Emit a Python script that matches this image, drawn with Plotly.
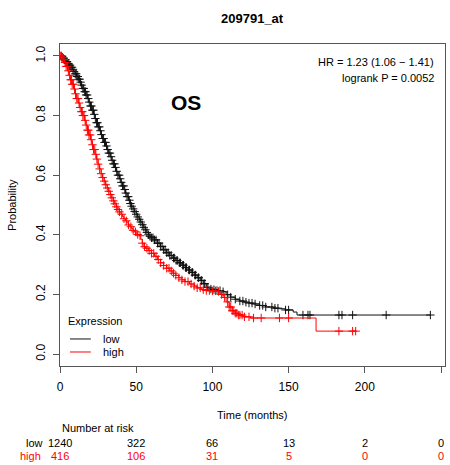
import numpy as np
import plotly.graph_objects as go

# ---- data ----
low_t = [0, 1, 2, 3, 4, 5, 6, 7, 8, 9, 10, 11, 12, 13, 14, 15, 16, 17, 18, 19, 20, 21, 22,
         23, 24, 25, 26, 27, 28, 29, 30, 31, 32, 33, 34, 35, 36, 37, 38, 39, 40, 41, 42,
         43, 44, 45, 46, 47, 48, 49, 50, 51, 52, 53, 54, 55, 56, 57, 58, 59, 60, 62, 64,
         66, 68, 70, 72, 74, 76, 78, 80, 82, 84, 86, 88, 90, 92, 94, 96, 98, 100, 103,
         106, 109, 112, 115, 118, 121, 124, 127, 131, 135, 140, 144, 148, 153, 155.5, 243]
low_s = [1.000, 0.996, 0.992, 0.987, 0.981, 0.975, 0.969, 0.962, 0.955, 0.948, 0.940,
         0.931, 0.922, 0.912, 0.902, 0.891, 0.880, 0.869, 0.857, 0.845, 0.832, 0.818,
         0.804, 0.790, 0.776, 0.762, 0.749, 0.736, 0.723, 0.710, 0.698, 0.686, 0.674,
         0.662, 0.650, 0.638, 0.626, 0.613, 0.600, 0.588, 0.576, 0.564, 0.552, 0.540,
         0.528, 0.516, 0.505, 0.496, 0.487, 0.478, 0.469, 0.460, 0.452, 0.443, 0.434,
         0.425, 0.417, 0.408, 0.400, 0.395, 0.390, 0.383, 0.372, 0.361, 0.350, 0.340,
         0.331, 0.322, 0.314, 0.306, 0.298, 0.290, 0.282, 0.274, 0.265, 0.256, 0.247,
         0.236, 0.224, 0.218, 0.216, 0.213, 0.209, 0.199, 0.191, 0.184, 0.178, 0.174,
         0.171, 0.168, 0.163, 0.158, 0.154, 0.152, 0.148, 0.141, 0.131, 0.131]

high_t = [0, 1, 2, 3, 4, 5, 6, 7, 8, 9, 10, 11, 12, 13, 14, 15, 16, 17, 18, 19, 20, 21, 22,
          23, 24, 25, 26, 27, 28, 29, 30, 31, 32, 33, 34, 35, 36, 37, 38, 39, 40, 41, 42,
          43, 44, 45, 46, 47, 48, 49, 50, 51, 52, 53, 54, 55, 56, 58, 60, 62, 64, 66, 68,
          70, 72, 74, 76, 78, 80, 82, 85, 88, 90, 93, 96, 100, 103, 105, 107, 109, 111,
          113, 115, 117, 120, 125, 168, 194]
high_s = [1.000, 0.995, 0.988, 0.978, 0.965, 0.950, 0.935, 0.920, 0.905, 0.889, 0.873,
          0.857, 0.842, 0.827, 0.813, 0.800, 0.784, 0.768, 0.751, 0.735, 0.719, 0.702,
          0.686, 0.670, 0.654, 0.637, 0.621, 0.605, 0.592, 0.580, 0.568, 0.557, 0.546,
          0.535, 0.524, 0.514, 0.504, 0.494, 0.485, 0.477, 0.469, 0.461, 0.454, 0.447,
          0.440, 0.433, 0.427, 0.421, 0.415, 0.410, 0.405, 0.401, 0.397, 0.385, 0.372,
          0.360, 0.355, 0.347, 0.338, 0.328, 0.317, 0.306, 0.297, 0.288, 0.279, 0.271,
          0.264, 0.256, 0.249, 0.243, 0.235, 0.228, 0.222, 0.216, 0.213, 0.212, 0.210,
          0.200, 0.190, 0.175, 0.158, 0.145, 0.137, 0.131, 0.125, 0.121, 0.077, 0.077]

low_cens = [0.8, 1.5, 2.2, 3, 3.7, 4.6, 5.3, 6, 6.6, 7.2, 7.9, 8.5, 9.2, 10, 10.6, 11.1,
            11.7, 12.3, 12.9, 13.5, 14.2, 15, 15.6, 16.2, 16.7, 17.1, 17.8, 18.5, 19.2, 20,
            20.6, 21.2, 21.9, 22.5, 23.2, 24, 24.6, 25.1, 25.8, 26.5, 27.2, 28, 28.6, 29.2,
            29.9, 30.5, 31.3, 32, 32.8, 33.5, 34.2, 35, 35.7, 36.4, 37.2, 38, 38.8, 39.5,
            40.2, 41, 41.8, 42.5, 43.2, 44, 44.8, 45.5, 46.2, 47, 48, 49, 50, 51, 52, 53,
            54, 55, 56, 57, 58, 59, 60, 61, 62, 63, 64, 65, 66, 67, 68, 69, 70, 71, 72, 73,
            74.5, 75, 76.2, 77, 78.3, 79, 80.5, 81, 82.4, 83, 84.5, 85, 86.6, 87, 88.5, 89,
            90.7, 91, 92.6, 93, 94.5, 95, 97, 99, 101, 103, 105, 107, 110, 112, 115, 118,
            120, 122, 124, 126, 128, 131, 133, 135, 139, 141, 143, 148, 150, 159.4, 162.7,
            164, 183, 185, 192, 214, 243]
high_cens = [0.5, 1, 1.8, 2.5, 3.3, 4, 4.8, 5.5, 6.3, 7, 7.6, 8, 8.8, 9.5, 10.2, 11, 11.8,
             12.5, 13.2, 14, 14.6, 15, 15.8, 16.5, 17.2, 18, 18.6, 19, 19.8, 20.5, 21.3, 22,
             22.8, 23.5, 24.2, 25, 26, 27, 28, 29, 30, 31, 32, 33, 34, 35, 36, 37, 38, 39,
             40.5, 42, 43.5, 45, 46.5, 48, 49.5, 51, 52.5, 54, 55.5, 57, 58.5, 60, 61.5, 63,
             64.5, 66, 68, 70, 71.5, 73, 74.5, 76, 78, 80, 82, 84, 86, 88, 90, 92, 94, 96,
             98, 100, 102, 104, 106, 108, 110, 111, 112, 113, 114, 115, 116, 117, 118, 119.5,
             121, 124, 127, 132, 144, 150, 183, 192, 194]

risk_times = [0, 50, 100, 150, 200, 250]
risk_low = [1240, 322, 66, 13, 2, 0]
risk_high = [416, 106, 31, 5, 0, 0]

x_ticks = [0, 50, 100, 150, 200, 250]
y_ticks = [0.0, 0.2, 0.4, 0.6, 0.8, 1.0]


def step_at(ts, ss, x):
    idx = np.searchsorted(np.array(ts), np.array(x), side="right") - 1
    return np.array(ss)[idx]


BLACK = "#111111"
RED = "#ff0000"
FONT = "Liberation Sans, Arial, sans-serif"

fig = go.Figure()
for ts, ss, cens, col in [(low_t, low_s, low_cens, BLACK), (high_t, high_s, high_cens, RED)]:
    fig.add_trace(go.Scatter(x=ts, y=ss, mode="lines", line=dict(color=col, width=1, shape="hv"),
                             showlegend=False, hoverinfo="skip"))
    fig.add_trace(go.Scatter(x=cens, y=step_at(ts, ss, cens), mode="markers",
                             marker=dict(symbol="cross-thin", size=6, line=dict(color=col, width=1)),
                             showlegend=False, hoverinfo="skip"))

ann = []
# title
ann.append(dict(text="<b>209791_at</b>", xref="paper", yref="paper", x=0.5, y=1.08,
                xanchor="center", showarrow=False, font=dict(size=13, color="black"), yanchor="middle"))
# HR text
ann.append(dict(text="HR = 1.23 (1.06 \u2212 1.41)", xref="paper", yref="paper", x=0.977, y=0.944,
                xanchor="right", yanchor="middle", showarrow=False, font=dict(size=11, color="black")))
ann.append(dict(text="logrank P = 0.0052", xref="paper", yref="paper", x=0.977, y=0.894,
                xanchor="right", yanchor="middle", showarrow=False, font=dict(size=11, color="black")))
# OS
ann.append(dict(text="<b>OS</b>", xref="paper", yref="paper", x=0.327, y=0.817, xanchor="center",
                showarrow=False, font=dict(size=21, color="black"), yanchor="middle"))
# axis titles
ann.append(dict(text="Probability", xref="paper", yref="paper", x=-0.125, y=0.5, textangle=-90,
                xanchor="center", yanchor="middle", showarrow=False, font=dict(size=11, color="black")))
ann.append(dict(text="Time (months)", xref="paper", yref="paper", x=0.5, y=-0.152, xanchor="center",
                yanchor="middle", showarrow=False, font=dict(size=11, color="black")))
ann.append(dict(text="Number at risk", xref="paper", yref="paper", x=0.0, y=-0.193, xanchor="left",
                yanchor="middle", showarrow=False, font=dict(size=11, color="black")))
ann.append(dict(text="low", xref="paper", yref="paper", x=-0.039, y=-0.239, xanchor="right",
                yanchor="middle", showarrow=False, font=dict(size=11, color="black")))
ann.append(dict(text="high", xref="paper", yref="paper", x=-0.044, y=-0.28, xanchor="right",
                yanchor="middle", showarrow=False, font=dict(size=11, color=RED)))
for t, a, b in zip(risk_times, risk_low, risk_high):
    ann.append(dict(text=str(a), xref="x", yref="paper", x=t, y=-0.239, xanchor="center",
                    yanchor="middle", showarrow=False, font=dict(size=11, color="black")))
    ann.append(dict(text=str(b), xref="x", yref="paper", x=t, y=-0.28, xanchor="center",
                    yanchor="middle", showarrow=False, font=dict(size=11, color=RED)))
# legend
ann.append(dict(text="Expression", xref="paper", yref="paper", x=0.0156, y=0.14, xanchor="left",
                yanchor="middle", showarrow=False, font=dict(size=11, color="black")))
ann.append(dict(text="low", xref="paper", yref="paper", x=0.1065, y=0.0839, xanchor="left",
                yanchor="middle", showarrow=False, font=dict(size=11, color="black")))
ann.append(dict(text="high", xref="paper", yref="paper", x=0.1065, y=0.0435, xanchor="left",
                yanchor="middle", showarrow=False, font=dict(size=11, color="black")))

shapes = [
    dict(type="line", xref="paper", yref="paper", x0=0.026, x1=0.08, y0=0.0839, y1=0.0839,
         line=dict(color=BLACK, width=1)),
    dict(type="line", xref="paper", yref="paper", x0=0.026, x1=0.08, y0=0.0435, y1=0.0435,
         line=dict(color=RED, width=1)),
]

fig.update_layout(
    width=450, height=465,
    margin=dict(l=60, r=5, t=44, b=99),
    paper_bgcolor="white", plot_bgcolor="white",
    font=dict(family=FONT, color="black"),
    annotations=ann, shapes=shapes, showlegend=False,
    xaxis=dict(range=[0, 252.6], tickvals=x_ticks, ticks="outside", ticklen=6, tickcolor="#555",
               showline=True, linecolor="#555", linewidth=1, mirror=True, showgrid=False,
               zeroline=False, tickfont=dict(size=12, color="black"), ticklabelstandoff=4),
    yaxis=dict(range=[-0.04, 1.04], tickvals=y_ticks, ticktext=["0.0", "0.2", "0.4", "0.6", "0.8", "1.0"],
               ticks="outside", ticklen=6, tickcolor="#555", tickangle=-90, ticklabelstandoff=3,
               showline=True, linecolor="#555", linewidth=1, mirror=True, showgrid=False,
               zeroline=False, tickfont=dict(size=12, color="black")),
)

fig.write_html("out.html", config={"displayModeBar": False},
               post_script="document.body.style.margin='0';document.body.style.overflow='hidden';")
